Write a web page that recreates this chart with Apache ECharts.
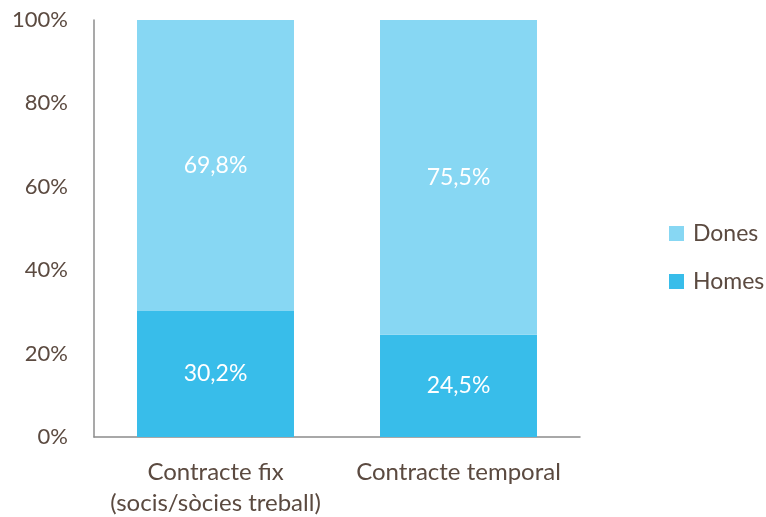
<!DOCTYPE html>
<html><head><meta charset="utf-8">
<script src="https://cdn.jsdelivr.net/npm/echarts@6/dist/echarts.min.js"></script>
<style>html,body{margin:0;padding:0;background:#fff}#c{width:766px;height:517px}</style>
</head><body><div id="c"></div>
<script>
const categories = ['Contracte fix\n(socis/sòcies treball)', 'Contracte temporal'];
const homes = [30.2, 24.5];
const dones = [69.8, 75.5];
const yTicks = [0, 20, 40, 60, 80, 100];
const txt = '#5b4a40';
const font = 'Lato';
const fmt = p => p.value.toFixed(1).replace('.', ',') + '%';
const chart = echarts.init(document.getElementById('c'));
chart.setOption({
  animation: false,
  textStyle: { fontFamily: font },
  grid: { left: 94, right: 186, top: 20, bottom: 80, containLabel: false, outerBoundsMode: 'none' },
  legend: {
    orient: 'vertical', left: 664, top: 217, itemWidth: 15, itemHeight: 15, itemGap: 25,
    icon: 'rect',
    data: ['Dones', 'Homes'],
    textStyle: { color: txt, fontSize: 23, fontFamily: font, padding: [0, 0, 0, 4] }
  },
  xAxis: {
    type: 'category', data: categories,
    axisLine: { lineStyle: { color: '#8c8c8c', width: 1.5 } },
    axisTick: { show: false },
    axisLabel: { color: txt, fontSize: 24, fontFamily: font, lineHeight: 31, margin: 20, interval: 0 }
  },
  yAxis: {
    type: 'value', min: 0, max: 100, interval: 20,
    axisLine: { show: true, lineStyle: { color: '#8c8c8c', width: 1.5 } },
    axisTick: { show: false },
    splitLine: { show: false },
    axisLabel: { color: txt, fontSize: 22, fontFamily: font, margin: 26, formatter: v => yTicks.includes(v) ? v + '%' : '' }
  },
  series: [
    { name: 'Homes', type: 'bar', stack: 't', data: homes, barWidth: '64.6%',
      itemStyle: { color: '#38bdea' },
      label: { show: true, position: 'inside', color: '#fff', fontSize: 23, fontFamily: font, formatter: fmt } },
    { name: 'Dones', type: 'bar', stack: 't', data: dones, barWidth: '64.6%',
      itemStyle: { color: '#87d7f3' },
      label: { show: true, position: 'inside', color: '#fff', fontSize: 23, fontFamily: font, formatter: fmt } }
  ]
});
</script></body></html>
